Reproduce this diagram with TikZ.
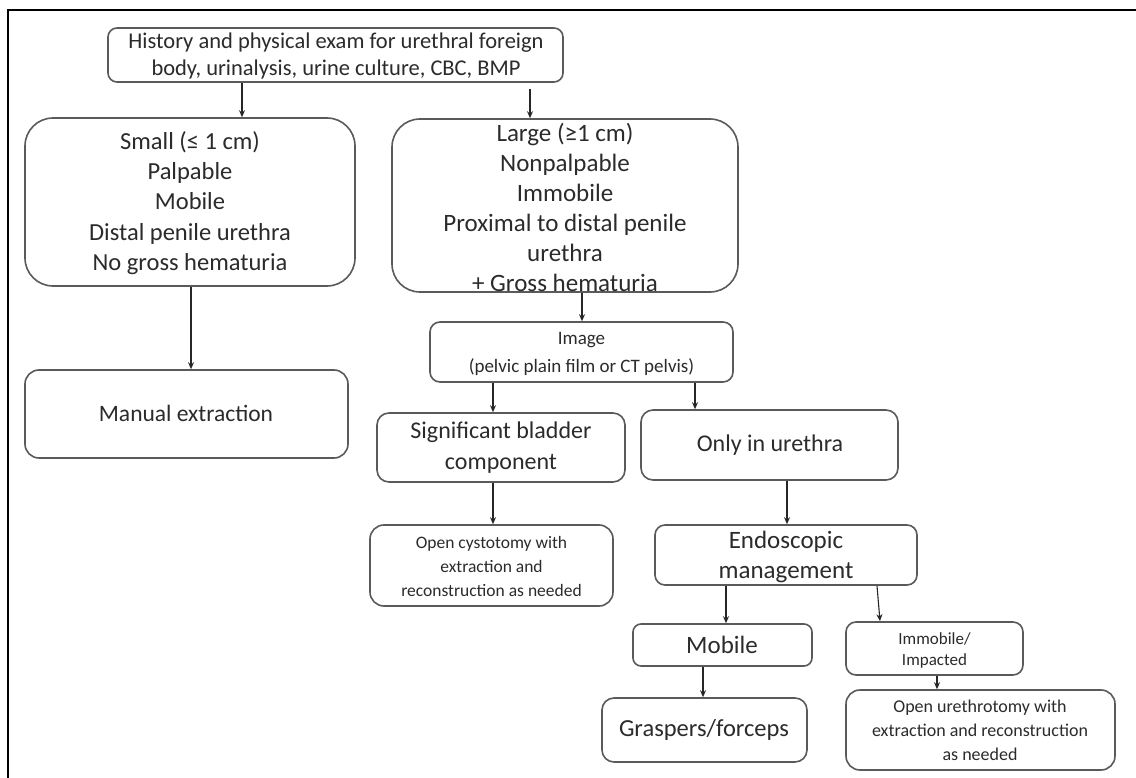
\documentclass[tikz,border=0pt]{standalone}
\usepackage{fontspec}
\setmainfont{Carlito}
\usetikzlibrary{arrows.meta,calc}
\definecolor{boxline}{HTML}{5A5A5A}
\definecolor{txtcol}{HTML}{2B2B2B}
\tikzset{
  box/.style={draw=boxline, line width=1.6pt, rounded corners=#1, inner sep=0pt},
  box/.default=10pt,
  txt/.style={text=txtcol, align=center, inner sep=0pt},
  arr/.style={draw=black!85, line width=1.1pt, -{Stealth[length=7pt,width=6pt]}},
  frame/.style={draw=black, line width=2pt},
}
\newcommand{\boxat}[6]{\node[box=#6, minimum width={#4-#2}, minimum height={#5-#3}] (#1) at ({(#2+#4)/2},{(#3+#5)/2}) {};}
\newcommand{\fs}[2]{\fontsize{#1}{#2}\selectfont}
\begin{document}
\begin{tikzpicture}[x=1pt,y=-1pt]
\useasboundingbox (0,0) rectangle (1136,778);
\fill[white] (0,0) rectangle (1136,778);
% frame (cropped on right and bottom)
\draw[frame] (8,778) -- (8,10) -- (1136,10);

% boxes
\boxat{top}{108}{28}{563}{82}{9pt}
\boxat{small}{25}{118}{355}{286}{28pt}
\boxat{large}{392}{119}{738}{292}{28pt}
\boxat{manual}{25}{370}{348}{458}{14pt}
\boxat{image}{430}{322}{733}{382}{10pt}
\boxat{sig}{377}{413}{625}{482}{12pt}
\boxat{only}{641}{410}{898}{480}{12pt}
\boxat{cysto}{370}{525}{613}{606}{14pt}
\boxat{endo}{655}{525}{917}{585}{10pt}
\boxat{mobile}{633}{624}{812}{666}{8pt}
\boxat{immob}{846}{622}{1023}{675}{10pt}
\boxat{grasp}{602}{698}{807}{762}{12pt}
\boxat{ureth}{846}{690}{1115}{770}{14pt}

% texts
\node[txt, font=\fs{22.5}{27}] (topT) at (336,56) {History and physical exam for urethral foreign\\body, urinalysis, urine culture, CBC, BMP};
\node[txt, font=\fs{24.5}{30.3}] (smallT) at (190,203) {Small (≤ 1 cm)\\Palpable\\Mobile\\Distal penile urethra\\No gross hematuria};
\node[txt, font=\fs{25}{30}] (largeT) at (565,207) {Large (≥1 cm)\\Nonpalpable\\Immobile\\Proximal to distal penile\\urethra\\+ Gross hematuria};
\node[txt, font=\fs{23.5}{28}] (manualT) at (186,413) {Manual extraction};
\node[txt, font=\fs{19}{28}] (imageT) at (581.5,354) {Image\\(pelvic plain film or CT pelvis)};
\node[txt, font=\fs{24}{31}] (sigT) at (501,448) {Significant bladder\\component};
\node[txt, font=\fs{24}{28}] (onlyT) at (770,445) {Only in urethra};
\node[txt, font=\fs{17.5}{24}] (cystoT) at (491.5,566) {Open cystotomy with\\extraction and\\reconstruction as needed};
\node[txt, font=\fs{25}{30}] (endoT) at (786,557) {Endoscopic\\management};
\node[txt, font=\fs{25}{28}] (mobileT) at (722,645) {Mobile};
\node[txt, font=\fs{17}{21}] (immobT) at (934.5,650) {Immobile/\\Impacted};
\node[txt, font=\fs{24.5}{28}] (graspT) at (704,730) {Graspers/forceps};
\node[txt, font=\fs{18}{24}] (urethT) at (980,730) {Open urethrotomy with\\extraction and reconstruction\\as needed};

% connectors
\draw[arr] (242,0 |- top.south) -- (242,0 |- small.north);
\coordinate (topR) at ([yshift=-6pt]530,0 |- top.south);
\draw[arr] (topR) -- (530,0 |- large.north);
\draw[arr] (191,0 |- small.south) -- (191,0 |- manual.north);
\draw[arr] (582,0 |- large.south) -- (582,0 |- image.north);
\draw[arr] (493,0 |- image.south) -- (493,0 |- sig.north);
\draw[arr] (695,0 |- image.south) -- (695,0 |- only.north);
\draw[arr] (493,0 |- sig.south) -- (493,0 |- cysto.north);
\draw[arr] (787,0 |- only.south) -- (787,0 |- endo.north);
\draw[arr] (726,0 |- endo.south) -- (726,0 |- mobile.north);
\draw[arr] (877,0 |- endo.south) -- (880,0 |- immob.north);
\draw[arr] (703,0 |- mobile.south) -- (703,0 |- grasp.north);
\draw[arr] (937,0 |- immob.south) -- (937,0 |- ureth.north);
\end{tikzpicture}
\end{document}
